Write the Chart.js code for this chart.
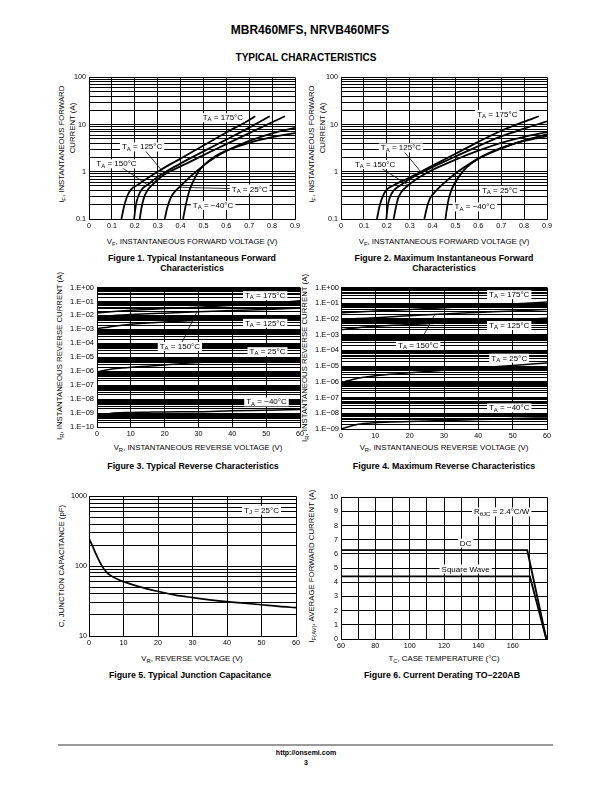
<!DOCTYPE html>
<html>
<head>
<meta charset="utf-8">
<script src="https://cdn.jsdelivr.net/npm/chart.js@4/dist/chart.umd.min.js"></script>
<style>
  body { margin: 0; background: #fff; }
  #page { position: relative; width: 612px; height: 792px; overflow: hidden;
          font-family: 'Liberation Sans', Arial, sans-serif; color: #000; }
  canvas { position: absolute; }
  .t { position: absolute; white-space: nowrap; line-height: 1; transform: translate(-50%, -50%); }
  .r { transform: translate(-50%, -50%) rotate(-90deg); }
  .ax { font-size: 7.8px; }
  .cap { font-size: 8.8px; font-weight: bold; }
  .sb { font-size: 0.75em; position: relative; top: 0.3em; }
  .rule { position: absolute; left: 58px; top: 744px; width: 495px; height: 1.5px; background: #999; }
</style>
</head>
<body>
<div id="page">
  <div class="t" style="left:310px;top:30px;font-size:12px;font-weight:bold">MBR460MFS, NRVB460MFS</div>
  <div class="t" style="left:306px;top:58px;font-size:10px;font-weight:bold">TYPICAL CHARACTERISTICS</div>

  <!-- figure 1 -->
  <div class="t r ax" style="left:62px;top:144px">i<span class="sb">F</span>, INSTANTANEOUS FORWARD</div>
  <div class="t r ax" style="left:73px;top:128px">CURRENT (A)</div>
  <div class="t ax" style="left:192px;top:242px">V<span class="sb">F</span>, INSTANTANEOUS FORWARD VOLTAGE (V)</div>
  <div class="t cap" style="left:192px;top:258px">Figure 1. Typical Instantaneous Forward</div>
  <div class="t cap" style="left:192px;top:268px">Characteristics</div>

  <!-- figure 2 -->
  <div class="t r ax" style="left:312px;top:144px">i<span class="sb">F</span>, INSTANTANEOUS FORWARD</div>
  <div class="t r ax" style="left:323px;top:128px">CURRENT (A)</div>
  <div class="t ax" style="left:444px;top:242px">V<span class="sb">F</span>, INSTANTANEOUS FORWARD VOLTAGE (V)</div>
  <div class="t cap" style="left:444px;top:258px">Figure 2. Maximum Instantaneous Forward</div>
  <div class="t cap" style="left:444px;top:268px">Characteristics</div>

  <!-- figure 3 -->
  <div class="t r ax" style="left:60px;top:356px">I<span class="sb">R</span>, INSTANTANEOUS REVERSE CURRENT (A)</div>
  <div class="t ax" style="left:198px;top:448px">V<span class="sb">R</span>, INSTANTANEOUS REVERSE VOLTAGE (V)</div>
  <div class="t cap" style="left:193px;top:466px">Figure 3. Typical Reverse Characteristics</div>

  <!-- figure 4 -->
  <div class="t r ax" style="left:305px;top:358px">I<span class="sb">R</span>, INSTANTANEOUS REVERSE CURRENT (A)</div>
  <div class="t ax" style="left:444px;top:448px">V<span class="sb">R</span>, INSTANTANEOUS REVERSE VOLTAGE (V)</div>
  <div class="t cap" style="left:444px;top:466px">Figure 4. Maximum Reverse Characteristics</div>

  <!-- figure 5 -->
  <div class="t r ax" style="left:62px;top:566px">C, JUNCTION CAPACITANCE (pF)</div>
  <div class="t ax" style="left:192px;top:659px">V<span class="sb">R</span>, REVERSE VOLTAGE (V)</div>
  <div class="t cap" style="left:190px;top:675px">Figure 5. Typical Junction Capacitance</div>

  <!-- figure 6 -->
  <div class="t r ax" style="left:312px;top:566px">I<span class="sb">F(AV)</span>, AVERAGE FORWARD CURRENT (A)</div>
  <div class="t ax" style="left:444px;top:659px">T<span class="sb">C</span>, CASE TEMPERATURE (°C)</div>
  <div class="t cap" style="left:442px;top:675px">Figure 6. Current Derating TO−220AB</div>

  <div class="rule"></div>
  <div class="t" style="left:306px;top:752px;font-size:7px;font-weight:bold">http://onsemi.com</div>
  <div class="t" style="left:306px;top:762px;font-size:7px;font-weight:bold">3</div>
</div>

<script>
// ---- Figure 1: typical forward, V (V) / I (A)
const typ175V = [0.1415, 0.155, 0.17, 0.185, 0.21, 0.25, 0.3, 0.35, 0.4, 0.5, 0.6, 0.7, 0.726];
const typ175I = [0.1, 0.2, 0.33, 0.43, 0.52, 0.7, 1.0, 1.4, 1.9, 3.6, 6.8, 12.5, 15];
const typ150V = [0.197, 0.205, 0.215, 0.23, 0.26, 0.3, 0.35, 0.4, 0.5, 0.6, 0.7, 0.79];
const typ150I = [0.1, 0.2, 0.3, 0.42, 0.55, 0.78, 1.1, 1.5, 2.7, 4.8, 8.6, 15];
const typ125V = [0.2217, 0.23, 0.24, 0.255, 0.28, 0.31, 0.35, 0.4, 0.5, 0.6, 0.7, 0.8, 0.856];
const typ125I = [0.1, 0.18, 0.28, 0.4, 0.55, 0.75, 1.0, 1.3, 2.25, 3.85, 6.6, 11.2, 15];
const typ25V = [0.331, 0.34, 0.35, 0.36, 0.375, 0.4, 0.45, 0.5, 0.55, 0.6, 0.7, 0.8, 0.9];
const typ25I = [0.1, 0.16, 0.23, 0.3, 0.38, 0.5, 0.85, 1.35, 2.0, 2.75, 4.5, 6.5, 8.5];
const typM40V = [0.411, 0.42, 0.43, 0.44, 0.455, 0.475, 0.5, 0.55, 0.6, 0.7, 0.8, 0.9];
const typM40I = [0.1, 0.17, 0.28, 0.42, 0.62, 0.95, 1.35, 2.1, 2.8, 4.1, 5.4, 6.6];

// ---- Figure 2: maximum forward
const max175V = [0.157, 0.17, 0.185, 0.2, 0.23, 0.28, 0.33, 0.4, 0.5, 0.6, 0.7, 0.8, 0.864];
const max175I = [0.1, 0.2, 0.32, 0.42, 0.52, 0.68, 0.9, 1.35, 2.4, 4.3, 7.4, 11.5, 15];
const max150V = [0.198, 0.205, 0.215, 0.23, 0.26, 0.3, 0.35, 0.4, 0.5, 0.6, 0.7, 0.8, 0.9];
const max150I = [0.1, 0.2, 0.3, 0.4, 0.52, 0.7, 0.95, 1.25, 2.1, 3.5, 5.6, 8.2, 11.7];
const max125V = [0.23, 0.24, 0.25, 0.265, 0.29, 0.33, 0.37, 0.4, 0.5, 0.6, 0.7, 0.8, 0.9];
const max125I = [0.1, 0.18, 0.28, 0.38, 0.5, 0.7, 0.92, 1.1, 1.8, 2.8, 4.1, 5.5, 6.9];
const max25V = [0.364, 0.372, 0.38, 0.39, 0.405, 0.42, 0.44, 0.47, 0.5, 0.55, 0.6, 0.7, 0.8, 0.9];
const max25I = [0.1, 0.15, 0.21, 0.28, 0.35, 0.42, 0.52, 0.7, 0.92, 1.35, 1.9, 3.1, 4.6, 6.2];
const maxM40V = [0.456, 0.463, 0.47, 0.48, 0.495, 0.52, 0.55, 0.6, 0.7, 0.8, 0.9];
const maxM40I = [0.1, 0.17, 0.26, 0.38, 0.55, 0.85, 1.25, 1.9, 3.2, 4.5, 5.6];

// ---- Figures 3 and 4: reverse current (A) vs reverse voltage (V)
const revV = [0, 5, 10, 15, 20, 30, 40, 50, 60];
const typRev175 = [1.5e-2, 1.9e-2, 2.3e-2, 2.7e-2, 3.1e-2, 3.9e-2, 5.3e-2, 7.6e-2, 1.1e-1];
const typRev150 = [8e-3, 1e-2, 1.15e-2, 1.3e-2, 1.45e-2, 1.8e-2, 2.2e-2, 2.7e-2, 3.3e-2];
const typRev125 = [1.1e-3, 1.7e-3, 2.3e-3, 2.8e-3, 3.3e-3, 4.4e-3, 5.6e-3, 7e-3, 8.6e-3];
const typRev25 = [9e-7, 1.5e-6, 1.9e-6, 2.3e-6, 2.8e-6, 4.2e-6, 5.5e-6, 7e-6, 8.8e-6];
const typRevM40 = [5.4e-10, 1e-9, 1.1e-9, 1.15e-9, 1.2e-9, 1.25e-9, 1.45e-9, 1.6e-9, 1.8e-9];
const maxRev175 = [2.4e-2, 2.8e-2, 3.2e-2, 3.6e-2, 4e-2, 5.2e-2, 6.8e-2, 9e-2, 1.2e-1];
const maxRev150 = [9e-3, 1.05e-2, 1.2e-2, 1.4e-2, 1.6e-2, 2.1e-2, 2.6e-2, 3.2e-2, 4e-2];
const maxRev125 = [2.1e-3, 2.8e-3, 3.4e-3, 3.9e-3, 4.4e-3, 5.7e-3, 7.2e-3, 9e-3, 1.1e-2];
const maxRev25 = [8.9e-7, 1.7e-6, 2.4e-6, 3.1e-6, 3.8e-6, 5.5e-6, 7.8e-6, 1.1e-5, 1.6e-5];
const maxRevM40 = [1e-9, 2e-9, 2.5e-9, 2.8e-9, 3e-9, 3.5e-9, 4e-9, 4.6e-9, 5.1e-9];

// ---- Figure 5: junction capacitance
const capV = [0, 1, 2, 3, 4, 5, 6, 8, 10, 15, 20, 25, 30, 35, 40, 45, 50, 55, 60];
const capPF = [250, 195, 150, 118, 96, 83, 75, 66, 60, 50, 43.5, 38.5, 35.5, 33, 31, 29.5, 28, 26.5, 25.5];

// ---- Figure 6: current derating
const dcTemp = [60, 168.5, 179.6];
const dcAmps = [6.27, 6.27, 0];
const sqTemp = [60, 170, 179.6];
const sqAmps = [4.42, 4.42, 0];

// ---- grid / tick values
function logGrid(e0, e1) {
  const out = [];
  for (let e = e0; e < e1; e++) {
    for (let m = 1; m < 10; m++) out.push(parseFloat((m * Math.pow(10, e)).toPrecision(6)));
  }
  out.push(Math.pow(10, e1));
  return out;
}
const fwdTicks = logGrid(-1, 2);
const rev3Ticks = logGrid(-10, 0);
const rev4Ticks = logGrid(-9, 0);
const capTicks = logGrid(1, 3);

Chart.defaults.font.family = "'Liberation Sans', Arial, sans-serif";
Chart.defaults.color = '#000';

const Y_W = 40, PAD_T = 6, PAD_R = 12, X_H = 14;
const MAIN_FONT = "8px 'Liberation Sans', Arial, sans-serif";
const SUB_FONT = "6px 'Liberation Sans', Arial, sans-serif";

const isDecade = v => Math.abs(Math.log10(v) - Math.round(Math.log10(v))) < 1e-6;
const pts = (xs, ys) => xs.map((x, i) => ({ x: x, y: ys[i] }));

function ta(t) { return [['T', 0], ['A', 1], [' = ' + t + '°C', 0]]; }

// white label boxes with optional leader lines, placed in data coordinates
function makeNotes(items) {
  return {
    id: 'notes',
    afterDatasetsDraw(chart) {
      const ctx = chart.ctx, xs = chart.scales.x, ys = chart.scales.y;
      ctx.save();
      items.forEach(n => {
        const cx = xs.getPixelForValue(n.x), cy = ys.getPixelForValue(n.y);
        let w = 0;
        n.parts.forEach(p => { ctx.font = p[1] ? SUB_FONT : MAIN_FONT; w += ctx.measureText(p[0]).width; });
        const bw = w + 4, bh = 9;
        if (n.lead) {
          ctx.strokeStyle = '#000';
          ctx.lineWidth = 0.8;
          ctx.beginPath();
          ctx.moveTo(cx, cy);
          ctx.lineTo(xs.getPixelForValue(n.lead[0]), ys.getPixelForValue(n.lead[1]));
          ctx.stroke();
        }
        ctx.fillStyle = '#fff';
        ctx.fillRect(cx - bw / 2, cy - bh / 2, bw, bh);
        ctx.fillStyle = '#000';
        ctx.textBaseline = 'middle';
        ctx.textAlign = 'left';
        let x = cx - bw / 2 + 2;
        n.parts.forEach(p => {
          ctx.font = p[1] ? SUB_FONT : MAIN_FONT;
          ctx.fillText(p[0], x, cy + (p[1] ? 2 : 0.3));
          x += ctx.measureText(p[0]).width;
        });
      });
      ctx.restore();
    }
  };
}

function baseAxis(extra, tickExtra) {
  return Object.assign({
    grid: { color: '#000', lineWidth: 1, drawTicks: false },
    border: { color: '#000', width: 1 },
    ticks: Object.assign({ autoSkip: false, maxRotation: 0, padding: 3, color: '#000', font: { size: 7.2 } }, tickExtra)
  }, extra);
}
function linAxis(min, max, step, fmt, tickExtra) {
  return baseAxis({ type: 'linear', min: min, max: max },
    Object.assign({ stepSize: step, callback: fmt }, tickExtra));
}
function logAxis(min, max, vals, fmt, tickExtra) {
  return baseAxis({
    type: 'logarithmic', min: min, max: max,
    afterBuildTicks: s => { s.ticks = vals.map(v => ({ value: v })); }
  }, Object.assign({ callback: fmt }, tickExtra));
}

function curve(data, width) {
  return { data: data, borderColor: '#000', borderWidth: width || 1.8, pointRadius: 0,
           fill: false, cubicInterpolationMode: 'monotone' };
}

function makeChart(box, xScale, yScale, datasets, notes) {
  const cv = document.createElement('canvas');
  cv.width = box.r - box.l + Y_W + PAD_R;
  cv.height = box.b - box.t + PAD_T + X_H;
  cv.style.left = (box.l - Y_W) + 'px';
  cv.style.top = (box.t - PAD_T) + 'px';
  document.getElementById('page').appendChild(cv);
  xScale.afterFit = s => { s.height = X_H; };
  yScale.afterFit = s => { s.width = Y_W; };
  return new Chart(cv, {
    type: 'line',
    data: { datasets: datasets },
    options: {
      responsive: false,
      animation: false,
      devicePixelRatio: 1,
      layout: { padding: { top: PAD_T, right: PAD_R, left: 0, bottom: 0 } },
      plugins: { legend: { display: false }, tooltip: { enabled: false } },
      scales: { x: xScale, y: yScale }
    },
    plugins: [makeNotes(notes)]
  });
}

const fmtVolt = v => (v === 0 ? '0' : v.toFixed(1));
const fmtFwdI = v => (isDecade(v) ? (v < 1 ? '0.1' : String(Math.round(v))) : '');
const fmtRevI = v => {
  if (!isDecade(v)) return '';
  const e = Math.round(Math.log10(v));
  return '1.E' + (e >= 0 ? '+' : '−') + String(Math.abs(e)).padStart(2, '0');
};
const fmtInt = v => String(v);

// Figure 1
makeChart({ l: 89, r: 295, t: 76, b: 219 },
  linAxis(0, 0.9, 0.1, fmtVolt),
  logAxis(0.1, 100, fwdTicks, fmtFwdI),
  [curve(pts(typ175V, typ175I)), curve(pts(typ150V, typ150I)), curve(pts(typ125V, typ125I)),
   curve(pts(typ25V, typ25I)), curve(pts(typM40V, typM40I))],
  [{ x: 0.585, y: 14, parts: ta('175') },
   { x: 0.232, y: 3.35, parts: ta('125'), lead: [0.331, 0.9] },
   { x: 0.12, y: 1.47, parts: ta('150'), lead: [0.253, 0.54] },
   { x: 0.702, y: 0.43, parts: ta('25'), lead: [0.396, 0.47] },
   { x: 0.542, y: 0.194, parts: ta('−40'), lead: [0.425, 0.2] }]);

// Figure 2
makeChart({ l: 341, r: 547, t: 76, b: 219 },
  linAxis(0, 0.9, 0.1, fmtVolt),
  logAxis(0.1, 100, fwdTicks, fmtFwdI),
  [curve(pts(max175V, max175I)), curve(pts(max150V, max150I)), curve(pts(max125V, max125I)),
   curve(pts(max25V, max25I)), curve(pts(maxM40V, maxM40I))],
  [{ x: 0.683, y: 16.5, parts: ta('175') },
   { x: 0.262, y: 3.2, parts: ta('125'), lead: [0.36, 0.86] },
   { x: 0.149, y: 1.43, parts: ta('150'), lead: [0.294, 0.52] },
   { x: 0.694, y: 0.405, parts: ta('25'), lead: [0.425, 0.405] },
   { x: 0.585, y: 0.18, parts: ta('−40'), lead: [0.49, 0.19] }]);

// Figure 3
makeChart({ l: 97, r: 300, t: 286, b: 427 },
  linAxis(0, 60, 10, fmtInt),
  logAxis(1e-10, 1, rev3Ticks, fmtRevI, { font: { size: 7.5 } }),
  [curve(pts(revV, typRev175), 1.5), curve(pts(revV, typRev150), 1.5), curve(pts(revV, typRev125), 1.5),
   curve(pts(revV, typRev25), 1.5), curve(pts(revV, typRevM40), 1.5)],
  [{ x: 49.7, y: 0.26, parts: ta('175') },
   { x: 49.7, y: 2.7e-3, parts: ta('125') },
   { x: 24.5, y: 5.9e-5, parts: ta('150'), lead: [29.5, 0.017] },
   { x: 50.4, y: 2.5e-5, parts: ta('25') },
   { x: 50.1, y: 6.3e-9, parts: ta('−40') }]);

// Figure 4
makeChart({ l: 341, r: 547, t: 287, b: 429 },
  linAxis(0, 60, 10, fmtInt),
  logAxis(1e-9, 1, rev4Ticks, fmtRevI, { font: { size: 7.5 }, padding: 2 }),
  [curve(pts(revV, maxRev175), 1.5), curve(pts(revV, maxRev150), 1.5), curve(pts(revV, maxRev125), 1.5),
   curve(pts(revV, maxRev25), 1.5), curve(pts(revV, maxRevM40), 1.5)],
  [{ x: 49, y: 0.35, parts: ta('175') },
   { x: 49, y: 3.8e-3, parts: ta('125') },
   { x: 22.5, y: 2.04e-4, parts: ta('150'), lead: [27.4, 0.021] },
   { x: 49, y: 3.2e-5, parts: ta('25') },
   { x: 49, y: 2.2e-8, parts: ta('−40') }]);

// Figure 5
makeChart({ l: 89, r: 296, t: 496, b: 636 },
  linAxis(0, 60, 10, fmtInt),
  logAxis(10, 1000, capTicks, v => (isDecade(v) ? String(Math.round(v)) : ''), { padding: 2 }),
  [curve(pts(capV, capPF), 1.7)],
  [{ x: 50, y: 631, parts: [['T', 0], ['J', 1], [' = 25°C', 0]] }]);

// Figure 6
makeChart({ l: 341, r: 547, t: 496, b: 639 },
  linAxis(60, 180, 10, v => (v % 20 === 0 && v < 180 ? String(v) : '')),
  linAxis(0, 10, 1, fmtInt),
  [Object.assign(curve(pts(dcTemp, dcAmps), 1.9), { cubicInterpolationMode: 'default', tension: 0 }),
   Object.assign(curve(pts(sqTemp, sqAmps), 1.9), { cubicInterpolationMode: 'default', tension: 0 })],
  [{ x: 153.6, y: 8.97, parts: [['R', 0], ['θJC', 1], [' = 2.4°C/W', 0]] },
   { x: 132.6, y: 6.76, parts: [['DC', 0]] },
   { x: 132.6, y: 4.94, parts: [['Square Wave', 0]] }]);
</script>
</body>
</html>
